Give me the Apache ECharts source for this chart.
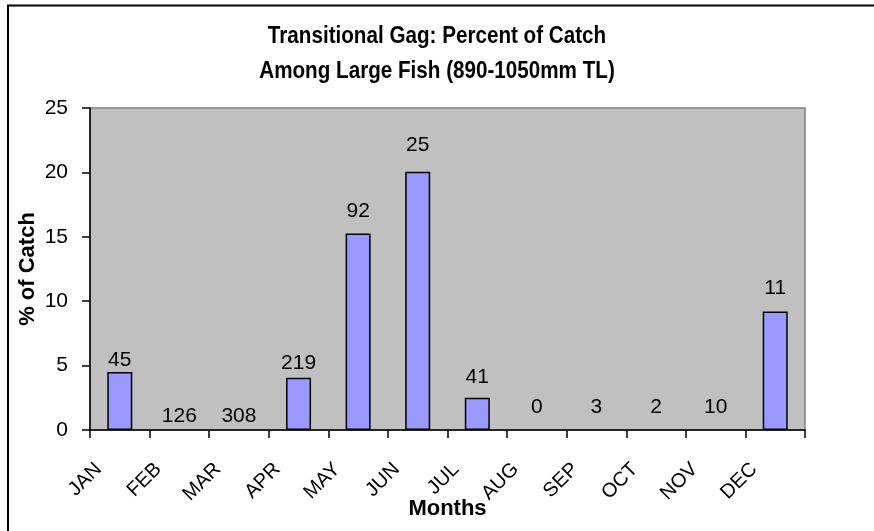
<!DOCTYPE html>
<html>
<head>
<meta charset="utf-8">
<script src="https://cdn.jsdelivr.net/npm/echarts@6/dist/echarts.min.js"></script>
<style>
html,body{margin:0;padding:0;background:#fff;}
#chart{width:874px;height:531px;}
</style>
</head>
<body>
<div id="chart"></div>
<script>
const months = ['JAN','FEB','MAR','APR','MAY','JUN','JUL','AUG','SEP','OCT','NOV','DEC'];
const percentCatch = [4.5, 0, 0, 4.05, 15.25, 20.05, 2.5, 0, 0, 0, 0, 9.2];
const sampleSizes = ['45','126','308','219','92','25','41','0','3','2','10','11'];
const yTicks = [0, 5, 10, 15, 20, 25];
const titleLines = ['Transitional Gag: Percent of Catch', 'Among Large Fish (890-1050mm TL)'];

// label gap above bar (styling only)
const labelGap = [1, 3, 3, 4, 12, 16, 10, 12, 12, 12, 12, 13];

const chart = echarts.init(document.getElementById('chart'), null, {renderer: 'canvas'});
const FONT = 'Liberation Sans, Arial, sans-serif';

const barData = percentCatch.map((v, i) => ({
  value: v,
  label: {
    show: true,
    position: 'top',
    distance: labelGap[i],
    formatter: sampleSizes[i],
    color: '#000',
    fontSize: 21,
    fontFamily: FONT
  },
  itemStyle: v === 0 ? {borderWidth: 0} : undefined
}));

chart.setOption({
  animation: false,
  backgroundColor: '#fff',
  graphic: [
    {
      type: 'rect',
      shape: {x: 8, y: 5.5, width: 900, height: 600},
      style: {fill: 'none', stroke: '#000', lineWidth: 2},
      silent: true,
      z: 100
    },
    {
      type: 'text',
      x: 437, y: 36, scaleX: 0.86,
      style: {text: titleLines[0], font: 'bold 24px Liberation Sans, Arial, sans-serif', fill: '#000', align: 'center', verticalAlign: 'middle'}
    },
    {
      type: 'text',
      x: 437, y: 71, scaleX: 0.86,
      style: {text: titleLines[1], font: 'bold 24px Liberation Sans, Arial, sans-serif', fill: '#000', align: 'center', verticalAlign: 'middle'}
    }
  ],
  grid: {
    left: 90, right: 69, top: 108, bottom: 101,
    containLabel: false,
    outerBoundsMode: 'none',
    show: true,
    backgroundColor: '#C0C0C0',
    borderColor: '#808080',
    borderWidth: 1.5
  },
  xAxis: {
    type: 'category',
    data: months,
    boundaryGap: true,
    name: 'Months',
    nameLocation: 'middle',
    nameGap: 68,
    nameMoveOverlap: false,
    nameTextStyle: {fontSize: 22, fontWeight: 'bold', fontFamily: FONT, color: '#000'},
    axisLine: {show: true, lineStyle: {color: '#000', width: 1.5}},
    axisTick: {show: true, alignWithLabel: false, length: 8, lineStyle: {color: '#000', width: 1.5}},
    axisLabel: {
      interval: 0,
      rotate: 45,
      margin: 15,
      padding: [0, 30, 0, 0],
      fontSize: 20,
      fontFamily: FONT,
      color: '#000'
    },
    splitLine: {show: false}
  },
  yAxis: {
    type: 'value',
    min: yTicks[0],
    max: yTicks[yTicks.length - 1],
    interval: yTicks[1] - yTicks[0],
    name: '% of Catch',
    nameLocation: 'middle',
    nameGap: 51,
    nameMoveOverlap: false,
    nameTextStyle: {fontSize: 22, fontWeight: 'bold', fontFamily: FONT, color: '#000'},
    axisLine: {show: true, lineStyle: {color: '#000', width: 1.5}},
    axisTick: {show: true, length: 8, lineStyle: {color: '#000', width: 1.5}},
    axisLabel: {margin: 22, fontSize: 21, fontFamily: FONT, color: '#000'},
    splitLine: {show: false}
  },
  series: [{
    type: 'bar',
    data: barData,
    barWidth: 25,
    itemStyle: {color: '#9999FF', borderColor: '#000', borderWidth: 1.5}
  }]
});
</script>
</body>
</html>
